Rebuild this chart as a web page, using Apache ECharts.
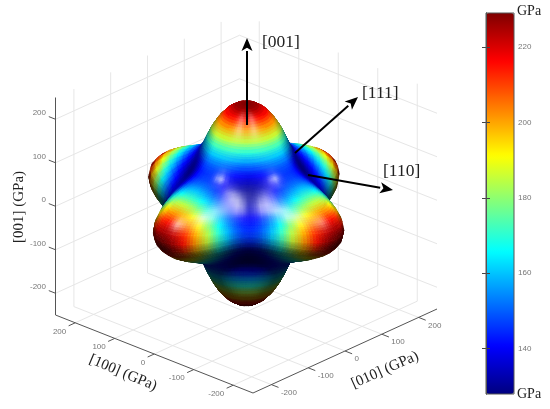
<!DOCTYPE html>
<html>
<head>
<meta charset="utf-8">
<title>Young's modulus surface</title>
<script src="https://cdn.jsdelivr.net/npm/echarts@6/dist/echarts.min.js"></script>
<style>
  html, body { margin: 0; padding: 0; background: #fff; }
  #chart { width: 550px; height: 409px; }
</style>
</head>
<body>
<div id="chart"></div>
<script>
// estimated modulus (GPa), one octant: rows polar angle 0..90 by 5, columns azimuth 0..45 by 5
const modulusTable = [
  [230.0, 230.0, 230.0, 230.0, 230.0, 230.0, 230.0, 230.0, 230.0, 230.0],
  [226.1, 226.1, 226.1, 226.1, 226.1, 226.1, 226.0, 226.0, 226.0, 226.0],
  [215.5, 215.5, 215.5, 215.4, 215.4, 215.4, 215.4, 215.4, 215.4, 215.4],
  [201.0, 201.0, 201.0, 200.9, 200.8, 200.7, 200.7, 200.6, 200.6, 200.6],
  [185.7, 185.7, 185.6, 185.4, 185.2, 185.0, 184.9, 184.7, 184.6, 184.6],
  [171.8, 171.8, 171.6, 171.3, 170.9, 170.5, 170.1, 169.8, 169.6, 169.5],
  [160.6, 160.4, 160.1, 159.5, 158.9, 158.2, 157.6, 157.1, 156.7, 156.6],
  [152.4, 152.2, 151.7, 150.8, 149.8, 148.8, 147.8, 147.0, 146.5, 146.3],
  [147.5, 147.2, 146.4, 145.2, 143.7, 142.2, 140.8, 139.7, 139.0, 138.7],
  [145.9, 145.5, 144.3, 142.6, 140.6, 138.4, 136.5, 135.0, 134.0, 133.6],
  [147.5, 146.9, 145.3, 142.9, 140.1, 137.2, 134.6, 132.6, 131.3, 130.8],
  [152.4, 151.6, 149.4, 146.1, 142.3, 138.4, 135.0, 132.3, 130.6, 130.0],
  [160.6, 159.5, 156.4, 151.9, 146.8, 141.7, 137.2, 133.8, 131.6, 130.9],
  [171.8, 170.3, 166.2, 160.2, 153.4, 146.8, 141.1, 136.7, 134.0, 133.1],
  [185.7, 183.7, 178.2, 170.3, 161.5, 153.1, 146.0, 140.6, 137.4, 136.3],
  [201.0, 198.4, 191.2, 181.1, 170.2, 159.9, 151.2, 144.9, 141.0, 139.7],
  [215.5, 212.2, 203.4, 191.2, 178.1, 166.0, 156.0, 148.7, 144.3, 142.9],
  [226.1, 222.3, 212.2, 198.4, 183.7, 170.3, 159.3, 151.4, 146.7, 145.1],
  [230.0, 226.1, 215.5, 201.0, 185.7, 171.8, 160.6, 152.4, 147.5, 145.9]
];
const axisTicks = [-200, -100, 0, 100, 200];
const colorbarTicks = [140, 160, 180, 200, 220];
const colorbarMin = 128;
const colorbarMax = 229;
const boxLimit = 250;
const jetColors = ['#00007f', '#0000ff', '#007fff', '#00ffff', '#7fff7f', '#ffff00', '#ff7f00', '#ff0000', '#7f0000'];

const PX = 0.435; // pixels per GPa along the vertical axis
const ex = [-0.395, 0.156];
const ey = [0.368, 0.168];
const ORIGIN = [246.25, 203.25];

// flat projection, result stays in GPa so the hidden cartesian axes do the pixel scaling
function project(p) {
  return [
    (ex[0] * p[0] + ey[0] * p[1]) / PX,
    (ex[1] * p[0] + ey[1] * p[1]) / PX + p[2]
  ];
}

function dot(a, b) { return a[0] * b[0] + a[1] * b[1] + a[2] * b[2]; }
function cross(a, b) {
  return [a[1] * b[2] - a[2] * b[1], a[2] * b[0] - a[0] * b[2], a[0] * b[1] - a[1] * b[0]];
}
function unit(a) {
  const l = Math.sqrt(dot(a, a)) || 1;
  return [a[0] / l, a[1] / l, a[2] / l];
}

// camera frame that belongs to the projection above
const viewRight = unit([ex[0], ey[0], 0]);
const viewDir = unit(cross([ex[0], ey[0], 0], [ex[1], ey[1], PX])).map(function (v) { return -v; });
const viewUp = cross(viewRight, viewDir);

function toWorld(v) {
  return [
    viewRight[0] * v[0] + viewUp[0] * v[1] + viewDir[0] * v[2],
    viewRight[1] * v[0] + viewUp[1] * v[1] + viewDir[1] * v[2],
    viewRight[2] * v[0] + viewUp[2] * v[1] + viewDir[2] * v[2]
  ];
}
const diffuseLight = toWorld(unit([0, 0.52, 0.85]));
const shineA = toWorld(unit([0.2, 0.22, 1]));
const shineB = toWorld(unit([-0.2, 0.22, 1]));

const N_POLAR = 36;
const N_AZIM = 72;
const CELL_STEPS = 4; // flat pieces per facet side, colours are blended across the facet

function modulusAt(i, j) {
  const row = Math.min(i, N_POLAR - i);
  let col = ((j % 18) + 18) % 18;
  if (col > 9) col = 18 - col;
  return modulusTable[row][col];
}

function pointAt(i, j) {
  const t = i * 5 * Math.PI / 180;
  const f = j * 5 * Math.PI / 180;
  const r = modulusAt(i, j);
  return [r * Math.sin(t) * Math.cos(f), r * Math.sin(t) * Math.sin(f), r * Math.cos(t)];
}

const vertices = [];
for (let i = 0; i <= N_POLAR; i++) {
  vertices.push([]);
  for (let j = 0; j <= N_AZIM; j++) vertices[i].push(pointAt(i, j));
}

function normalAt(i, j) {
  const p = vertices[i][j];
  if (i === 0 || i === N_POLAR) return unit(p);
  const a = vertices[i + 1][j];
  const b = vertices[i - 1][j];
  const c = vertices[i][(j + 1) % N_AZIM];
  const d = vertices[i][(j - 1 + N_AZIM) % N_AZIM];
  const n = unit(cross([a[0] - b[0], a[1] - b[1], a[2] - b[2]], [c[0] - d[0], c[1] - d[1], c[2] - d[2]]));
  return dot(n, p) < 0 ? n.map(function (v) { return -v; }) : n;
}

function shineAt(n, h) {
  const d = Math.max(0, dot(n, h));
  return 0.6 * Math.pow(d, 140) + 0.14 * Math.pow(d, 35);
}

function vertexColor(i, j) {
  const t = Math.min(1, Math.max(0, (modulusAt(i, j) - colorbarMin) / (colorbarMax - colorbarMin)));
  const base = echarts.color.parse(echarts.color.lerp(t, jetColors));
  const n = normalAt(i, j);
  const light = Math.min(1, 0.24 + 1.25 * Math.max(0, dot(n, diffuseLight)));
  const shine = Math.min(1, shineAt(n, shineA) + shineAt(n, shineB));
  return [0, 1, 2].map(function (k) {
    const c = base[k] * light;
    return c + (255 - c) * shine;
  });
}

const vertexColors = [];
for (let i = 0; i <= N_POLAR; i++) {
  vertexColors.push([]);
  for (let j = 0; j <= N_AZIM; j++) vertexColors[i].push(vertexColor(i, j));
}

function blend(a, b, c, d, s, t) {
  return a.map(function (v, k) {
    return (a[k] * (1 - s) + b[k] * s) * (1 - t) + (d[k] * (1 - s) + c[k] * s) * t;
  });
}
function rgb(c) { return 'rgb(' + Math.round(c[0]) + ',' + Math.round(c[1]) + ',' + Math.round(c[2]) + ')'; }

// facets turned to the viewer, far ones first
const cells = [];
for (let i = 0; i < N_POLAR; i++) {
  for (let j = 0; j < N_AZIM; j++) {
    const a = vertices[i][j], b = vertices[i + 1][j], c = vertices[i + 1][j + 1], d = vertices[i][j + 1];
    const mid = [(a[0] + b[0] + c[0] + d[0]) / 4, (a[1] + b[1] + c[1] + d[1]) / 4, (a[2] + b[2] + c[2] + d[2]) / 4];
    const n = cross([c[0] - a[0], c[1] - a[1], c[2] - a[2]], [d[0] - b[0], d[1] - b[1], d[2] - b[2]]);
    const facing = dot(n, mid) < 0 ? -dot(n, viewDir) : dot(n, viewDir);
    if (facing < -1) continue;
    cells.push({ i: i, j: j, depth: dot(mid, viewDir), e: modulusAt(i, j) });
  }
}
cells.sort(function (p, q) { return p.depth - q.depth; });
const surfaceData = cells.map(function (c) { return [c.i, c.j, c.e]; });

function renderSurface(params, api) {
  const i = api.value(0);
  const j = api.value(1);
  const pick = function (r, s) { return api.coord(project(vertices[r][s])); };
  const a = pick(i, j), b = pick(i + 1, j), c = pick(i + 1, j + 1), d = pick(i, j + 1);
  const ca = vertexColors[i][j], cb = vertexColors[i + 1][j], cc = vertexColors[i + 1][j + 1], cd = vertexColors[i][j + 1];
  const children = [];
  for (let m = 0; m < CELL_STEPS; m++) {
    for (let n = 0; n < CELL_STEPS; n++) {
      const s0 = m / CELL_STEPS, s1 = (m + 1) / CELL_STEPS, t0 = n / CELL_STEPS, t1 = (n + 1) / CELL_STEPS;
      const color = rgb(blend(ca, cb, cc, cd, (s0 + s1) / 2, (t0 + t1) / 2));
      children.push({
        type: 'polygon',
        shape: { points: [blend(a, b, c, d, s0, t0), blend(a, b, c, d, s1, t0), blend(a, b, c, d, s1, t1), blend(a, b, c, d, s0, t1)] },
        style: { fill: color, stroke: color, lineWidth: 0.7 },
        silent: true
      });
    }
  }
  return { type: 'group', children: children };
}

function lineItem(api, p, q, color, width) {
  const s = api.coord(project(p));
  const e = api.coord(project(q));
  return {
    type: 'line',
    shape: { x1: s[0], y1: s[1], x2: e[0], y2: e[1] },
    style: { stroke: color, lineWidth: width },
    silent: true
  };
}

function renderWalls(params, api) {
  const L = boxLimit;
  const color = '#e6e6e6';
  const children = [];
  axisTicks.forEach(function (t) {
    children.push(lineItem(api, [L, t, -L], [L, t, L], color, 1));
    children.push(lineItem(api, [t, L, -L], [t, L, L], color, 1));
    children.push(lineItem(api, [t, -L, -L], [t, L, -L], color, 1));
    children.push(lineItem(api, [-L, t, -L], [L, t, -L], color, 1));
    children.push(lineItem(api, [L, -L, t], [L, L, t], color, 1));
    children.push(lineItem(api, [-L, L, t], [L, L, t], color, 1));
  });
  return { type: 'group', children: children };
}

function tickLabel(api, p, dx, dy, align, text) {
  const s = api.coord(project(p));
  return {
    type: 'text',
    x: s[0] + dx,
    y: s[1] + dy,
    style: {
      text: text,
      fill: '#777',
      fontSize: 8,
      fontFamily: '"Liberation Sans", sans-serif',
      align: align,
      verticalAlign: 'middle'
    },
    silent: true
  };
}

function renderAxes(params, api) {
  const L = boxLimit;
  const color = '#555';
  const children = [
    lineItem(api, [L, -L, -L], [L, -L, L], color, 1),
    lineItem(api, [L, -L, -L], [-L, -L, -L], color, 1),
    lineItem(api, [-L, -L, -L], [-L, L, -L], color, 1)
  ];
  axisTicks.forEach(function (t) {
    children.push(lineItem(api, [L, -L, t], [L + 17, -L, t], color, 1));
    children.push(lineItem(api, [t, -L, -L], [t, -L - 18, -L], color, 1));
    children.push(lineItem(api, [-L, t, -L], [-L - 18, t, -L], color, 1));
    children.push(tickLabel(api, [L, -L, t], -9.5, -6, 'right', String(t)));
    children.push(tickLabel(api, [t, -L, -L], -9, 8.5, 'right', String(t)));
    children.push(tickLabel(api, [-L, t, -L], 9.5, 8, 'left', String(t)));
  });
  return { type: 'group', children: children };
}

function arrow(x1, y1, x2, y2) {
  const a = Math.atan2(y2 - y1, x2 - x1);
  const len = 13;
  const half = 5.5;
  const bx = x2 - Math.cos(a) * len;
  const by = y2 - Math.sin(a) * len;
  return [
    { type: 'line', z: 50, shape: { x1: x1, y1: y1, x2: bx, y2: by }, style: { stroke: '#000', lineWidth: 2 } },
    {
      type: 'polygon',
      z: 50,
      shape: {
        points: [
          [x2, y2],
          [bx - Math.sin(a) * half, by + Math.cos(a) * half],
          [x2 - Math.cos(a) * len * 0.75, y2 - Math.sin(a) * len * 0.75],
          [bx + Math.sin(a) * half, by - Math.cos(a) * half]
        ]
      },
      style: { fill: '#000' }
    }
  ];
}

function serifText(text, x, y, size, rotation, align) {
  return {
    type: 'text',
    z: 50,
    x: x,
    y: y,
    rotation: rotation || 0,
    style: {
      text: text,
      fill: '#222',
      font: size + 'px "Liberation Serif", serif',
      textAlign: align || 'left',
      textVerticalAlign: 'middle'
    }
  };
}

const chart = echarts.init(document.getElementById('chart'));

chart.setOption({
  animation: false,
  backgroundColor: '#fff',
  grid: [
    { left: 0, top: 0, right: 0, bottom: 0 },
    { left: 486, top: 13, width: 28, height: 381 }
  ],
  xAxis: [
    { type: 'value', show: false, gridIndex: 0, min: -ORIGIN[0] / PX, max: (550 - ORIGIN[0]) / PX },
    { type: 'value', show: false, gridIndex: 1, min: 0, max: 1 }
  ],
  yAxis: [
    { type: 'value', show: false, gridIndex: 0, min: (ORIGIN[1] - 409) / PX, max: ORIGIN[1] / PX },
    {
      type: 'value',
      gridIndex: 1,
      position: 'right',
      min: colorbarMin,
      max: colorbarMax,
      z: 10,
      splitLine: { show: false },
      axisLine: { show: true, lineStyle: { color: '#555' } },
      axisTick: { show: true, inside: true, length: 4, customValues: colorbarTicks, lineStyle: { color: '#444' } },
      axisLabel: {
        show: true,
        margin: 4,
        color: '#777',
        fontSize: 8,
        fontFamily: '"Liberation Sans", sans-serif',
        customValues: colorbarTicks
      }
    },
    {
      type: 'value',
      gridIndex: 1,
      position: 'left',
      min: colorbarMin,
      max: colorbarMax,
      z: 10,
      splitLine: { show: false },
      axisLine: { show: true, lineStyle: { color: '#555' } },
      axisTick: { show: true, inside: true, length: 4, customValues: colorbarTicks, lineStyle: { color: '#444' } },
      axisLabel: { show: false }
    }
  ],
  visualMap: {
    type: 'continuous',
    seriesIndex: 1,
    dimension: 2,
    min: colorbarMin,
    max: colorbarMax,
    left: 486,
    top: 13,
    padding: 0,
    itemWidth: 28,
    itemHeight: 381,
    calculable: false,
    hoverLink: false,
    text: ['', ''],
    inRange: { color: jetColors }
  },
  series: [
    { type: 'custom', coordinateSystem: 'cartesian2d', xAxisIndex: 0, yAxisIndex: 0, z: 1, clip: false, silent: true, data: [[0, 0]], renderItem: renderWalls },
    { type: 'custom', coordinateSystem: 'cartesian2d', xAxisIndex: 0, yAxisIndex: 0, z: 3, clip: false, silent: true, encode: { x: 0, y: 1 }, data: surfaceData, renderItem: renderSurface },
    { type: 'custom', coordinateSystem: 'cartesian2d', xAxisIndex: 0, yAxisIndex: 0, z: 2, clip: false, silent: true, data: [[0, 0]], renderItem: renderAxes }
  ],
  graphic: [].concat(
    arrow(247, 125, 247, 38),
    arrow(295, 153, 358, 97),
    arrow(308, 175, 393, 190),
    [
      serifText('[001]', 262, 42, 17.5),
      serifText('[111]', 362, 93, 17.5),
      serifText('[110]', 383, 171, 17.5),
      serifText('[001] (GPa)', 19, 207, 15, Math.PI / 2, 'center'),
      serifText('[100] (GPa)', 123, 373, 15, -0.4, 'center'),
      serifText('[010] (GPa)', 385, 370, 15, 0.42, 'center'),
      serifText('GPa', 517, 11, 14),
      serifText('GPa', 517, 394, 14),
      { type: 'rect', z: 50, shape: { x: 486, y: 13, width: 28, height: 381 }, style: { fill: 'none', stroke: '#555', lineWidth: 1 } }
    ]
  )
});
</script>
</body>
</html>
